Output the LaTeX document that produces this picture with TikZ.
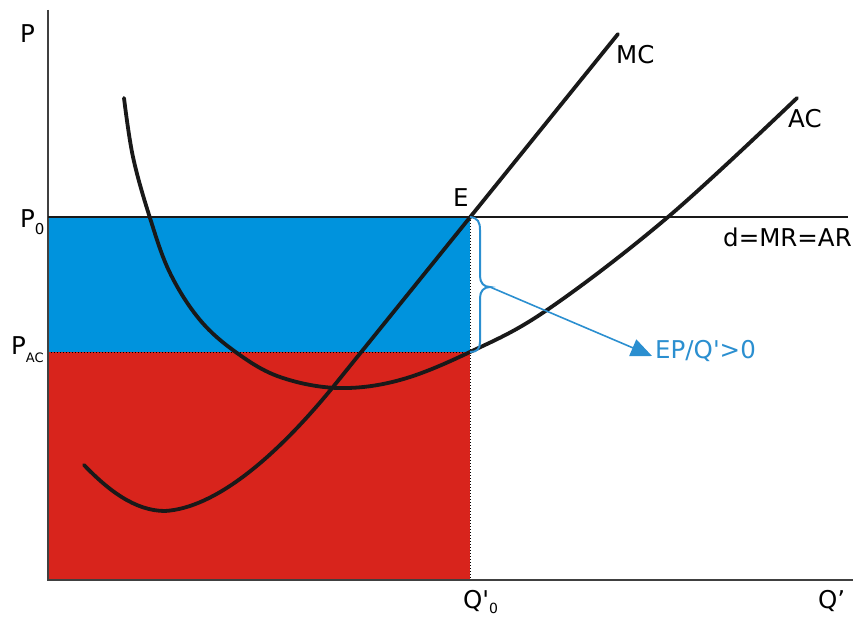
\documentclass[tikz,border=0pt]{standalone}
\usepackage{fontspec}
\setmainfont{DejaVu Sans}
\newfontfamily\dvplain{DejaVu Sans}
\usetikzlibrary{arrows.meta}
\definecolor{profitblue}{HTML}{0093DD}
\definecolor{costred}{HTML}{D8241C}
\definecolor{bracecol}{HTML}{2B8FD0}
\newcommand{\mylow}[3]{\raisebox{-#1pt}{\fontsize{#2}{#2}\selectfont #3}}
\begin{document}
\begin{tikzpicture}[x=1pt,y=-1pt,
  lbl/.style={inner sep=0pt, anchor=base west, font=\dvplain\fontsize{24.5}{28}\selectfont},
  curve/.style={line width=3.8pt, black!90, line cap=round},
  axis/.style={line width=1.6pt, black!75},
  dotline/.style={dotted, line width=1pt, black}]
\useasboundingbox (0,0) rectangle (863,623);
% areas
\fill[profitblue] (48,217) rectangle (470,352);
\fill[costred] (48,352) rectangle (470,580);
% coordinates
\coordinate (E) at (470,217);
\coordinate (A) at (470,352);
\coordinate (Q0) at (470,580);
\coordinate (p0) at (48,217);
\coordinate (pac) at (48,352);
\coordinate (dend) at (848,217);
\coordinate (ytop) at (48,10);
\coordinate (orig) at (48,580);
\coordinate (xend) at (853,580);
% dotted lines
\draw[dotline] (pac) -- (A);
\draw[dotline] (E) -- (Q0);
% axes
\draw[axis] (ytop) -- (orig) -- (xend);
% demand line
\draw[line width=2pt, black!90] (p0) -- (dend);
% MC curve
\draw[curve] (84,465) .. controls (108,490) and (135,511) .. (165,511)
  .. controls (215,508) and (275,458) .. (333,387) -- (618,34);
% AC curve
\draw[curve] plot[smooth, tension=0.6] coordinates {(124,98) (133,157) (150,218) (170,273) (200,320) (237,353) (280,377) (338,388) (400,380) (470,352) (547,310) (668,217) (797,98)};
% brace
\coordinate (bt) at (490,287);
\draw[bracecol, line width=2pt] (E) .. controls (478,218) and (480,222) .. (480,230) -- (480,276)
  .. controls (480,283) and (484,287) .. (bt)
  .. controls (484,287) and (480,291) .. (480,298) -- (480,342)
  .. controls (480,349) and (477,352) .. (A);
\coordinate (ae) at (652,356);
\draw[bracecol, line width=1.6pt, -{Triangle[length=21pt,width=18pt]}] (bt) -- (ae);
% labels
\node[lbl] (lP) at (20,43) {P};
\node[lbl] (lP0) at (20,228) {P\mylow{6}{15}{0}};
\node[lbl] (lPAC) at (11,354) {P\mylow{8}{13}{AC}};
\node[lbl] (lE) at (453,207) {E};
\node[lbl] (lMC) at (616,64) {MC};
\node[lbl] (lAC) at (788,128) {AC};
\node[lbl] (ld) at (723,247) {d=MR=AR};
\node[lbl, text=bracecol] (lEP) at (655,358) {EP/Q'>0};
\node[lbl] (lQ0) at (463,608) {Q'\mylow{5}{14}{0}};
\node[lbl] (lQ) at (818,608) {Q’};
\end{tikzpicture}
\end{document}
